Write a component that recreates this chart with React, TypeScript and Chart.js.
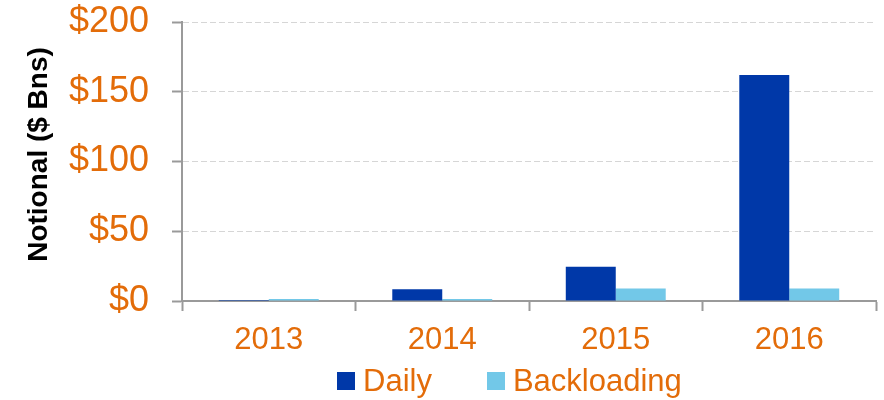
import React, { useEffect, useRef } from "react";
import { Chart, registerables } from "chart.js";

Chart.register(...registerables);

const categories = ["2013", "2014", "2015", "2016"];
const dailyValues = [0.8, 8.5, 24.5, 162];
const backloadingValues = [1.5, 1.5, 9, 9];
const seriesNames = ["Daily", "Backloading"];
const yTickLabels = ["$0", "$50", "$100", "$150", "$200"];
const axisTitle = "Notional ($ Bns)";

const DAILY = "#0038A8";
const BACK = "#72C8E8";
const ORANGE = "#E36C09";
const AXIS = "#9a9a9a";
const GRID = "#d6d6d6";
const FONT = "'Liberation Sans', Arial, Helvetica, sans-serif";

export default function App() {
  const ref = useRef<HTMLCanvasElement>(null);

  useEffect(() => {
    const chart = new Chart(ref.current as HTMLCanvasElement, {
      type: "bar",
      data: {
        labels: categories,
        datasets: [
          {
            label: seriesNames[0],
            data: dailyValues,
            backgroundColor: DAILY,
            categoryPercentage: 0.576,
            barPercentage: 1,
          },
          {
            label: seriesNames[1],
            data: backloadingValues,
            backgroundColor: BACK,
            categoryPercentage: 0.576,
            barPercentage: 1,
          },
        ],
      },
      options: {
        responsive: false,
        animation: false,
        layout: { padding: { left: 18, right: 8, top: 0, bottom: 44 } },
        plugins: { legend: { display: false }, tooltip: { enabled: false } },
        scales: {
          x: {
            afterFit: (s: any) => {
              s.height = 55;
              s.paddingLeft = 0;
              s.paddingRight = 0;
            },
            grid: {
              drawOnChartArea: false,
              offset: true,
              tickLength: 10,
              tickColor: AXIS,
              tickWidth: 2,
              color: AXIS,
            },
            border: { color: AXIS, width: 2 },
            ticks: {
              color: ORANGE,
              font: { family: FONT, size: 31 },
              padding: 11,
            },
          },
          y: {
            min: 0,
            max: 200,
            afterFit: (s: any) => {
              s.width = 164;
              s.paddingTop = 22;
              s.paddingBottom = 0;
            },
            ticks: {
              stepSize: 50,
              color: ORANGE,
              font: { family: FONT, size: 36 },
              padding: 23,
              callback: (_v: any, i: number) => yTickLabels[i],
            },
            grid: {
              color: (ctx: any) =>
                ctx.tick && ctx.tick.value === 0 ? "rgba(0,0,0,0)" : GRID,
              lineWidth: 1,
              tickLength: 10,
              tickColor: AXIS,
              tickWidth: 2,
            },
            border: { color: AXIS, width: 2, dash: [6, 3] },
            title: {
              display: true,
              text: "\u2002" + axisTitle,
              color: "#000",
              font: { family: FONT, size: 28, weight: "bold" },
              padding: { top: 4, bottom: 13 },
            },
          },
        },
      },
    } as any);
    return () => chart.destroy();
  }, []);

  const legendItems = [
    { name: seriesNames[0], color: DAILY },
    { name: seriesNames[1], color: BACK },
  ];

  return (
    <div style={{ position: "absolute", left: 0, top: 0, width: 884, height: 400 }}>
      <canvas ref={ref} width={884} height={400} style={{ display: "block" }} />
      <div
        style={{
          position: "absolute",
          left: 337,
          top: 363,
          height: 36,
          display: "flex",
          alignItems: "center",
          fontFamily: FONT,
          fontSize: 31,
          lineHeight: "36px",
          color: ORANGE,
          whiteSpace: "nowrap",
        }}
      >
        {legendItems.map((it, i) => (
          <div
            key={it.name}
            style={{ display: "flex", alignItems: "center", marginRight: i === 0 ? 55 : 0 }}
          >
            <span
              style={{
                display: "inline-block",
                width: 18,
                height: 18,
                background: it.color,
                marginRight: 8,
              }}
            />
            <span>{it.name}</span>
          </div>
        ))}
      </div>
    </div>
  );
}
